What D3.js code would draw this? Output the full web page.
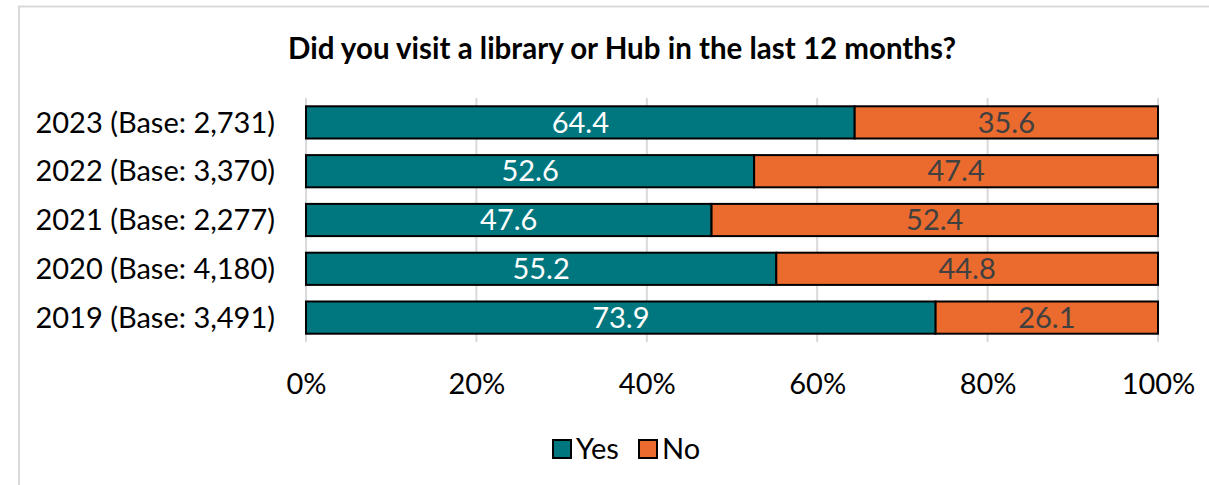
<!DOCTYPE html>
<html>
<head>
<meta charset="utf-8">
<script src="https://cdn.jsdelivr.net/npm/d3@7"></script>
<style>
  html, body { margin: 0; padding: 0; background: #fff; }
  svg { display: block; font-family: Lato, "Open Sans", sans-serif; }
</style>
</head>
<body>
<svg id="chart" width="1209" height="485"></svg>
<script>
// Survey responses by year (percent of respondents)
const years = ["2023 (Base: 2,731)", "2022 (Base: 3,370)", "2021 (Base: 2,277)", "2020 (Base: 4,180)", "2019 (Base: 3,491)"];
const yesValues = [64.4, 52.6, 47.6, 55.2, 73.9];
const noValues = [35.6, 47.4, 52.4, 44.8, 26.1];
const seriesNames = ["Yes", "No"];
const seriesColors = ["#00777F", "#EB6B2E"];
const labelColors = ["#ffffff", "#404040"];
const xTicks = [0, 20, 40, 60, 80, 100];
const titleText = "Did you visit a library or Hub in the last 12 months?";

const svg = d3.select("#chart");
const W = 1209, H = 485;
const margin = { left: 306, right: 51, top: 98, bottom: 143 };
const fontSize = 29;

// Chart frame
svg.append("path")
  .attr("d", `M19,${H} L19,6.5 L${W},6.5`)
  .attr("fill", "none")
  .attr("stroke", "#d9d9d9")
  .attr("stroke-width", 2);

const x = d3.scaleLinear().domain([0, 100]).range([margin.left, W - margin.right]);
const y = d3.scaleBand().domain(years).range([margin.top, H - margin.bottom]).paddingInner(0.34).paddingOuter(0.17);

// Title
svg.append("text")
  .attr("x", 622).attr("y", 47)
  .attr("text-anchor", "middle")
  .attr("dominant-baseline", "central")
  .attr("font-weight", "bold")
  .attr("font-size", 29.5)
  .attr("fill", "#000")
  .text(titleText);

// Vertical gridlines
svg.append("g").selectAll("line").data(xTicks).join("line")
  .attr("x1", d => x(d)).attr("x2", d => x(d))
  .attr("y1", margin.top).attr("y2", H - margin.bottom)
  .attr("stroke", "#d9d9d9").attr("stroke-width", 2);

// X axis tick labels
const xAxis = d3.axisBottom(x).tickValues(xTicks).tickFormat(d => d + "%").tickSize(0).tickPadding(0);
const gx = svg.append("g").attr("transform", `translate(0, ${H - margin.bottom})`).call(xAxis);
gx.select(".domain").remove();
gx.selectAll("text")
  .attr("y", 42).attr("dy", "0.35em")
  .attr("font-size", fontSize).attr("font-family", "Lato, sans-serif").attr("fill", "#000");

// Y axis category labels
const yAxis = d3.axisLeft(y).tickSize(0).tickPadding(0);
const gy = svg.append("g").attr("transform", `translate(${margin.left}, 0)`).call(yAxis);
gy.select(".domain").remove();
gy.selectAll("text")
  .attr("x", -31).attr("dy", "0.35em")
  .attr("font-size", fontSize).attr("font-family", "Lato, sans-serif").attr("fill", "#000");

// Stacked rows
const rows = years.map((yr, i) => ({ year: yr, values: [yesValues[i], noValues[i]] }));
const stacked = d3.stack().keys([0, 1]).value((d, k) => d.values[k])(rows);

stacked.forEach((layer, k) => {
  const g = svg.append("g");
  g.selectAll("rect").data(layer).join("rect")
    .attr("x", d => x(d[0]))
    .attr("y", d => y(d.data.year))
    .attr("width", d => x(d[1]) - x(d[0]))
    .attr("height", y.bandwidth())
    .attr("fill", seriesColors[k])
    .attr("stroke", "#000")
    .attr("stroke-width", 2);
  g.selectAll("text").data(layer).join("text")
    .attr("x", d => (x(d[0]) + x(d[1])) / 2)
    .attr("y", d => y(d.data.year) + y.bandwidth() / 2)
    .attr("dy", "0.35em")
    .attr("text-anchor", "middle")
    .attr("font-size", fontSize)
    .attr("fill", labelColors[k])
    .text(d => d3.format(".1f")(d.data.values[k]));
});

// Legend
const legend = svg.append("g");
const legendX = [553, 639];
seriesNames.forEach((name, k) => {
  const lx = legendX[k];
  legend.append("rect")
    .attr("x", lx).attr("y", 440).attr("width", 18).attr("height", 18)
    .attr("fill", seriesColors[k]).attr("stroke", "#000").attr("stroke-width", 2);
  legend.append("text")
    .attr("x", lx + 23).attr("y", 449).attr("dy", "0.35em")
    .attr("font-size", fontSize).attr("fill", "#000")
    .text(name);
});
</script>
</body>
</html>
